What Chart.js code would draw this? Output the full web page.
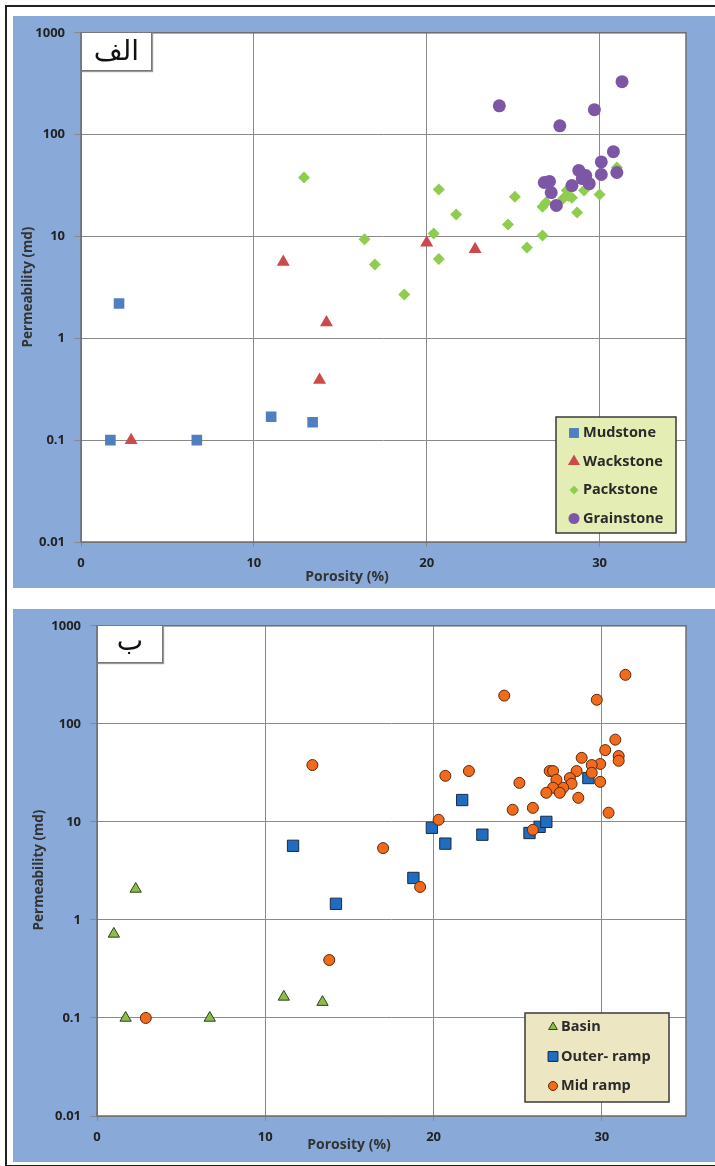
<!DOCTYPE html>
<html>
<head>
<meta charset="utf-8">
<script src="https://cdn.jsdelivr.net/npm/chart.js"></script>
<style>
  body { margin: 0; background: #fff; width: 715px; height: 1166px; position: relative; overflow: hidden; }
  #frame { position: absolute; left: 5px; top: 5px; width: 712px; height: 1158px; border-left: 2px solid #222; border-top: 2px solid #222; border-bottom: 2px solid #222; }
  canvas { position: absolute; left: 13px; }
  #topChart { top: 16px; }
  #bottomChart { top: 609px; }
  .tag { position: absolute; background: #fff; border: 1px solid #777; box-shadow: 1px 1px 1px #999;
         font-family: "DejaVu Sans", sans-serif; color: #111; text-align: center; }
</style>
</head>
<body>
<div id="frame"></div>
<canvas id="topChart" width="702" height="572"></canvas>
<canvas id="bottomChart" width="702" height="553"></canvas>
<div class="tag" style="left:81px;top:32px;width:69px;height:37px;font-size:28px;line-height:36px;">الف</div>
<div class="tag" style="left:97px;top:625px;width:64px;height:36px;font-size:28px;line-height:30px;">ب</div>
<script>
// axis ticks
const porosityTicks = [0, 10, 20, 30];
const permTicks = [0.01, 0.1, 1, 10, 100, 1000];
const permTickLabels = ['0.01', '0.1', '1', '10', '100', '1000'];

// top chart (الف) - rock texture
const mudstonePor = [2.2, 1.7, 6.7, 11.0, 13.4];
const mudstonePerm = [2.2, 0.1, 0.1, 0.17, 0.15];
const wackstonePor = [2.9, 11.7, 14.2, 13.8, 20.0, 22.8];
const wackstonePerm = [0.1, 5.6, 1.43, 0.39, 8.7, 7.5];
const packstonePor = [12.9, 16.4, 17.0, 18.7, 20.4, 20.7, 20.7, 21.7, 24.7, 25.1, 25.8, 26.7, 26.7, 26.9, 27.9, 28.1, 28.2, 28.4, 28.7, 29.1, 30.0, 31.0];
const packstonePerm = [37.9, 9.4, 5.3, 2.7, 10.7, 29, 6.0, 16.4, 13.1, 24.6, 7.8, 10.2, 19.6, 21.5, 23.6, 28.3, 25, 24, 17.2, 28.3, 25.9, 47.6];
const grainstonePor = [24.2, 27.7, 29.7, 31.3, 30.8, 30.1, 30.1, 31.0, 28.8, 29.2, 29.4, 28.4, 26.8, 27.1, 27.2, 27.5, 29.0];
const grainstonePerm = [192, 122, 176, 331, 68, 54, 40.6, 42.5, 44.5, 39.6, 33, 31.6, 33.9, 34.7, 27, 20.2, 37];

// bottom chart (ب) - depositional setting
const basinPor = [2.3, 1.0, 1.7, 6.7, 11.1, 13.4];
const basinPerm = [2.07, 0.72, 0.1, 0.1, 0.164, 0.145];
const outerRampPor = [14.2, 18.8, 11.65, 19.9, 20.7, 21.7, 22.9, 25.7, 26.3, 26.7, 29.2];
const outerRampPerm = [1.46, 2.68, 5.7, 8.7, 6.0, 16.7, 7.4, 7.7, 8.9, 10, 28];
const midRampPor = [2.9, 13.8, 19.2, 12.8, 17.0, 20.3, 20.7, 22.1, 24.2, 25.1, 24.7, 25.9, 25.9, 29.7, 31.4, 30.8, 30.2, 31.0, 31.0, 29.9, 29.4, 28.8, 28.5, 29.4, 28.1, 28.2, 27.7, 26.9, 27.1, 27.3, 27.1, 26.7, 27.5, 28.6, 29.9, 30.4];
const midRampPerm = [0.1, 0.39, 2.17, 38, 5.4, 10.5, 29.5, 33, 194, 25, 13.3, 13.9, 8.3, 176, 316, 69, 54, 47, 42, 39, 38, 45, 33, 31.7, 28, 24.5, 22.3, 33, 33, 26.9, 22.3, 19.8, 19.8, 17.6, 25.6, 12.4];

function pts(xs, ys) {
    return xs.map((x, i) => ({x: x, y: ys[i]}));
}

const FONT = '"Open Sans", "Liberation Sans", sans-serif';
const PANEL_BLUE = '#89a9d9';

function drawMarker(ctx, ds, x, y) {
    ctx.save();
    ctx.fillStyle = ds.backgroundColor;
    ctx.strokeStyle = ds.borderColor;
    ctx.lineWidth = ds.borderWidth || 0;
    Chart.helpers.drawPoint(ctx, {
        pointStyle: ds.pointStyle,
        rotation: 0,
        radius: ds.legendRadius,
        borderWidth: ds.borderWidth || 0
    }, x, y);
    ctx.restore();
}

const panelPlugin = {
    id: 'panel',
    beforeDraw(chart) {
        const ctx = chart.ctx, a = chart.chartArea;
        ctx.save();
        ctx.fillStyle = PANEL_BLUE;
        ctx.fillRect(0, 0, chart.width, chart.height);
        ctx.fillStyle = '#fff';
        ctx.fillRect(a.left, a.top, a.right - a.left, a.bottom - a.top);
        ctx.restore();
    },
    beforeDatasetsDraw(chart) {
        const ctx = chart.ctx, a = chart.chartArea;
        ctx.save();
        ctx.strokeStyle = '#6e6e6e';
        ctx.lineWidth = 1.5;
        ctx.strokeRect(a.left, a.top, a.right - a.left, a.bottom - a.top);
        ctx.restore();
    },
    afterDraw(chart, args, opts) {
        const ctx = chart.ctx;
        ctx.save();
        // axis titles
        ctx.fillStyle = '#333';
        ctx.font = 'bold 14px ' + FONT;
        ctx.textAlign = 'center';
        ctx.textBaseline = 'middle';
        ctx.fillText('Porosity (%)', opts.xTitle[0], opts.xTitle[1]);
        ctx.translate(opts.yTitle[0], opts.yTitle[1]);
        ctx.rotate(-Math.PI / 2);
        ctx.font = 'bold 13.5px ' + FONT;
        ctx.fillText('Permeability (md)', 0, 0);
        ctx.restore();
        // legend box
        const b = opts.legend;
        ctx.save();
        ctx.fillStyle = b.fill;
        ctx.fillRect(b.x, b.y, b.w, b.h);
        ctx.strokeStyle = '#3a3a3a';
        ctx.lineWidth = 1.5;
        ctx.strokeRect(b.x, b.y, b.w, b.h);
        ctx.textAlign = 'left';
        ctx.textBaseline = 'middle';
        chart.data.datasets.forEach((ds, i) => {
            const yy = b.y + b.first + i * b.step;
            drawMarker(ctx, ds, b.x + b.icon, yy);
            ctx.font = 'bold 14.5px ' + FONT;
            ctx.fillStyle = '#2a2a2a';
            ctx.fillText(ds.label, b.x + b.text, yy);
        });
        ctx.restore();
    }
};

function makeChart(id, datasets, geo) {
    return new Chart(document.getElementById(id), {
        type: 'scatter',
        data: {datasets: datasets},
        options: {
            responsive: false,
            animation: false,
            devicePixelRatio: 1,
            layout: {padding: {top: 16, right: 29, left: 0, bottom: 0}},
            plugins: {
                legend: {display: false},
                tooltip: {enabled: false},
                panel: geo
            },
            scales: {
                x: {
                    type: 'linear',
                    min: 0,
                    max: 35,
                    afterBuildTicks: (s) => { s.ticks = porosityTicks.map(v => ({value: v})); },
                    afterFit: (s) => { s.height = 46; },
                    grid: {color: '#8a8a8a', lineWidth: 1, tickLength: 5, tickColor: '#8a8a8a'},
                    border: {display: false},
                    ticks: {color: '#222', padding: 8, maxRotation: 0, font: {family: FONT, size: 13, weight: 'bold'}}
                },
                y: {
                    type: 'logarithmic',
                    min: 0.01,
                    max: 1000,
                    afterBuildTicks: (s) => { s.ticks = permTicks.map(v => ({value: v})); },
                    afterFit: (s) => { s.width = geo.yWidth; },
                    grid: {color: '#8a8a8a', lineWidth: 1, tickLength: 7, tickColor: '#8a8a8a'},
                    border: {display: false},
                    ticks: {
                        color: '#222', padding: 9, font: {family: FONT, size: 13, weight: 'bold'},
                        callback: (v) => { const i = permTicks.indexOf(v); return i >= 0 ? permTickLabels[i] : ''; }
                    }
                }
            }
        },
        plugins: [panelPlugin]
    });
}

makeChart('topChart', [
    {label: 'Mudstone', data: pts(mudstonePor, mudstonePerm), pointStyle: 'rect', pointRadius: 7.5, legendRadius: 7,
     backgroundColor: '#4f7fc0', borderColor: '#4f7fc0', borderWidth: 0, order: 4},
    {label: 'Wackstone', data: pts(wackstonePor, wackstonePerm), pointStyle: 'triangle', pointRadius: 7.5, legendRadius: 7,
     backgroundColor: '#cd4a4a', borderColor: '#cd4a4a', borderWidth: 0, order: 3},
    {label: 'Packstone', data: pts(packstonePor, packstonePerm), pointStyle: 'rectRot', pointRadius: 6, legendRadius: 4.5,
     backgroundColor: '#8fcd4e', borderColor: '#8fcd4e', borderWidth: 0, order: 2},
    {label: 'Grainstone', data: pts(grainstonePor, grainstonePerm), pointStyle: 'circle', pointRadius: 6.5, legendRadius: 5.5,
     backgroundColor: '#7d56a6', borderColor: '#7d56a6', borderWidth: 0, order: 1}
], {
    yWidth: 68,
    xTitle: [334, 561],
    yTitle: [15, 271],
    legend: {x: 543, y: 401, w: 120, h: 116, fill: '#e3edb4', first: 16, step: 28.5, icon: 18, text: 27}
});

makeChart('bottomChart', [
    {label: 'Basin', data: pts(basinPor, basinPerm), pointStyle: 'triangle', pointRadius: 6.5, legendRadius: 5,
     backgroundColor: '#8cbc4c', borderColor: '#2d4418', borderWidth: 1, order: 3},
    {label: 'Outer- ramp', data: pts(outerRampPor, outerRampPerm), pointStyle: 'rect', pointRadius: 8, legendRadius: 7,
     backgroundColor: '#1f6cc0', borderColor: '#1a2b45', borderWidth: 1, order: 2},
    {label: 'Mid ramp', data: pts(midRampPor, midRampPerm), pointStyle: 'circle', pointRadius: 5.5, legendRadius: 4.5,
     backgroundColor: '#f26a1c', borderColor: '#5c2a0c', borderWidth: 1, order: 1}
], {
    yWidth: 84,
    xTitle: [336, 536],
    yTitle: [26, 261],
    legend: {x: 512, y: 404, w: 144, h: 89, fill: '#ede6c2', first: 14, step: 29.5, icon: 28, text: 36}
});
</script>
</body>
</html>
